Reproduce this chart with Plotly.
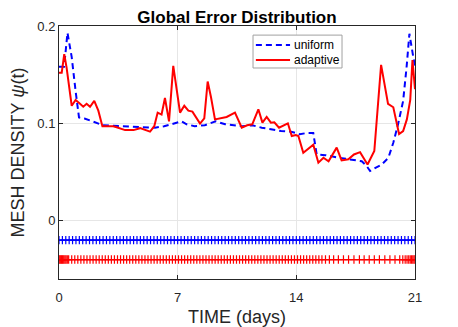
import plotly.graph_objects as go

# mesh density curves (time in days, density psi)
uniform_t = [0, 0.3, 0.5, 0.75, 0.98, 1.18, 1.5, 2.1, 2.6, 3.7, 4.7, 5.66, 6.2, 6.85,
             7.24, 7.53, 8.0, 8.6, 9.0, 9.24, 9.8, 10.8, 11.4, 11.96, 12.5, 13.1, 13.7,
             14.2, 14.6, 15.0, 15.2, 15.7, 16.5, 17.07, 17.86, 18.15, 18.35, 18.64,
             19.04, 19.43, 19.72, 20.0, 20.3, 20.5, 20.67, 20.9, 21.0]
uniform_psi = [0.158, 0.158, 0.193, 0.168, 0.133, 0.106, 0.105, 0.101, 0.098, 0.097,
               0.0965, 0.0955, 0.097, 0.100, 0.102, 0.099, 0.097, 0.098, 0.1007, 0.102,
               0.099, 0.097, 0.098, 0.0955, 0.094, 0.092, 0.0914, 0.0887, 0.090, 0.090,
               0.068, 0.0673, 0.0646, 0.063, 0.061, 0.056, 0.051, 0.054, 0.0577, 0.0646,
               0.080, 0.099, 0.123, 0.157, 0.192, 0.168, 0.159]

adaptive_t = [0, 0.16, 0.31, 0.45, 0.75, 0.98, 1.24, 1.43, 1.63, 1.83, 2.08, 2.32, 2.56,
              3.2, 3.4, 3.9, 4.4, 4.78, 5.37, 5.62, 5.82, 6.05, 6.25, 6.49, 6.74, 7.14,
              7.39, 7.63, 7.87, 8.32, 8.57, 8.77, 8.97, 9.2, 9.89, 10.38, 10.78, 11.1,
              11.4, 11.76, 12.0, 12.25, 12.5, 12.7, 12.98, 13.5, 13.73, 13.97, 14.12,
              14.41, 15.0, 15.3, 15.6, 15.9, 16.38, 16.67, 17.07, 17.4, 17.76, 18.2,
              18.6, 19.0, 19.41, 19.72, 20.06, 20.3, 20.52, 20.72, 20.85, 21.0]
adaptive_psi = [0.152, 0.152, 0.171, 0.157, 0.118, 0.124, 0.120, 0.117, 0.120, 0.117,
                0.123, 0.113, 0.097, 0.097, 0.096, 0.093, 0.093, 0.095, 0.0914, 0.097,
                0.111, 0.109, 0.126, 0.102, 0.159, 0.111, 0.118, 0.113, 0.112, 0.0997,
                0.105, 0.143, 0.1265, 0.104, 0.1065, 0.111, 0.0955, 0.098, 0.099, 0.1144,
                0.1007, 0.1065, 0.1007, 0.101, 0.0955, 0.100, 0.087, 0.088, 0.087, 0.0698,
                0.078, 0.0595, 0.0646, 0.061, 0.075, 0.0619, 0.063, 0.068, 0.0704, 0.0577,
                0.0715, 0.160, 0.120, 0.1165, 0.089, 0.092, 0.104, 0.124, 0.165, 0.135]

# mesh nodes
uniform_mesh = [0.0, 0.2, 0.4, 0.6, 0.8, 1.0, 1.2, 1.4, 1.6, 1.8, 2.0, 2.2, 2.4, 2.6, 2.8,
                3.0, 3.2, 3.4, 3.6, 3.8, 4.0, 4.2, 4.4, 4.6, 4.8, 5.0, 5.2, 5.4, 5.6, 5.8,
                6.0, 6.2, 6.4, 6.6, 6.8, 7.0, 7.2, 7.4, 7.6, 7.8, 8.0, 8.2, 8.4, 8.6, 8.8,
                9.0, 9.2, 9.4, 9.6, 9.8, 10.0, 10.2, 10.4, 10.6, 10.8, 11.0, 11.2, 11.4,
                11.6, 11.8, 12.0, 12.2, 12.4, 12.6, 12.8, 13.0, 13.2, 13.4, 13.6, 13.8,
                14.0, 14.2, 14.4, 14.6, 14.8, 15.0, 15.2, 15.4, 15.6, 15.8, 16.0, 16.2,
                16.4, 16.6, 16.8, 17.0, 17.2, 17.4, 17.6, 17.8, 18.0, 18.2, 18.4, 18.6,
                18.8, 19.0, 19.2, 19.4, 19.6, 19.8, 20.0, 20.2, 20.4, 20.6, 20.8, 21.0]
adaptive_mesh = [0.0, 0.05, 0.10, 0.15, 0.20, 0.25, 0.30, 0.36, 0.42, 0.49, 0.57, 0.75,
                 0.93, 1.11, 1.29, 1.47, 1.65, 1.83, 2.01, 2.19, 2.37, 2.55, 2.73, 2.91,
                 3.09, 3.27, 3.45, 3.63, 3.81, 3.99, 4.17, 4.35, 4.53, 4.71, 4.89, 5.07,
                 5.25, 5.43, 5.61, 5.79, 5.97, 6.15, 6.33, 6.51, 6.69, 6.87, 7.05, 7.23,
                 7.41, 7.59, 7.77, 7.95, 8.13, 8.31, 8.49, 8.67, 8.85, 9.03, 9.21, 9.39,
                 9.57, 9.75, 9.93, 10.11, 10.29, 10.47, 10.65, 10.83, 11.01, 11.19, 11.37,
                 11.55, 11.73, 11.91, 12.09, 12.27, 12.45, 12.63, 12.81, 12.99, 13.17,
                 13.35, 13.53, 13.71, 13.89, 14.07, 14.25, 14.43, 14.61, 14.79, 14.97,
                 15.15, 15.33, 15.51, 15.72, 15.95, 16.2, 16.48, 16.78, 17.08, 17.4,
                 17.72, 18.0, 18.3, 18.6, 18.9, 19.22, 19.52, 19.82, 20.1, 20.28, 20.42,
                 20.53, 20.63, 20.72, 20.8, 20.87, 20.94, 21.0]
uniform_level = -0.02
adaptive_level = -0.04

x_ticks = [0, 7, 14, 21]
y_ticks = [0, 0.1, 0.2]
y_ticktext = ['0', '0.1', '0.2']

BLUE = 'rgb(0,0,255)'
RED = 'rgb(255,0,0)'
AX = '#262626'

fig = go.Figure()

# mesh markers
fig.add_trace(go.Scatter(x=uniform_mesh, y=[uniform_level] * len(uniform_mesh),
                         mode='lines+markers', showlegend=False,
                         line=dict(color=BLUE, width=1.2),
                         marker=dict(symbol='cross-thin', size=6,
                                     line=dict(color=BLUE, width=1.2))))
fig.add_trace(go.Scatter(x=adaptive_mesh, y=[adaptive_level] * len(adaptive_mesh),
                         mode='lines+markers', showlegend=False,
                         line=dict(color=RED, width=1.2),
                         marker=dict(symbol='cross-thin', size=6,
                                     line=dict(color=RED, width=1.2))))

# density curves
fig.add_trace(go.Scatter(x=uniform_t, y=uniform_psi, mode='lines', name='uniform',
                         showlegend=False,
                         line=dict(color=BLUE, width=2, dash='6px,4px')))
fig.add_trace(go.Scatter(x=adaptive_t, y=adaptive_psi, mode='lines', name='adaptive',
                         showlegend=False,
                         line=dict(color=RED, width=2)))

# legend box drawn by hand (MATLAB-style compact legend)
fig.add_shape(type='rect', xref='paper', yref='paper', x0=0.545, x1=0.795,
              y0=0.834, y1=0.964, line=dict(color='#a0a0a0', width=1),
              fillcolor='white', layer='above')
legend_rows = [('uniform', BLUE, '6px,4px', 0.925), ('adaptive', RED, 'solid', 0.866)]
for name, color, dash, yy in legend_rows:
    fig.add_shape(type='line', xref='paper', yref='paper', x0=0.553, x1=0.649,
                  y0=yy, y1=yy, line=dict(color=color, width=2, dash=dash),
                  layer='above')
    fig.add_annotation(x=0.654, y=yy, xref='paper', yref='paper', text=name,
                       showarrow=False, xanchor='left', yanchor='middle',
                       font=dict(size=12, color='black'))

fig.update_layout(
    width=450, height=319,
    margin=dict(l=51, r=43, t=18, b=48),
    paper_bgcolor='white', plot_bgcolor='white',
    font=dict(family='Liberation Sans, Arial, sans-serif', color=AX, size=13),
    title=dict(text='<b>Global Error Distribution</b>', x=0.5, xref='paper',
               y=1, yref='paper', yanchor='bottom', pad=dict(b=3),
               font=dict(size=17, color='black')),
    showlegend=False,
)

fig.update_xaxes(range=[0, 21], tickvals=x_ticks, ticks='inside', ticklen=4,
                 tickcolor=AX, showline=True, linecolor=AX, linewidth=1,
                 mirror='allticks', showgrid=True, gridcolor='#e6e6e6', zeroline=False,
                 automargin=False, ticklabelstandoff=6,
                 title=dict(text='TIME (days)', font=dict(size=18), standoff=18),
                 tickfont=dict(size=13))
fig.update_yaxes(range=[-0.06, 0.2], tickvals=y_ticks, ticktext=y_ticktext,
                 ticks='inside', ticklen=4, tickcolor=AX, showline=True, linecolor=AX,
                 linewidth=1, mirror='allticks', showgrid=True, gridcolor='#e6e6e6',
                 zeroline=False, automargin=False,
                 title=dict(text='MESH DENSITY <i>ψ</i>(t)', font=dict(size=18), standoff=8),
                 tickfont=dict(size=13))

fig.write_html("out.html")
